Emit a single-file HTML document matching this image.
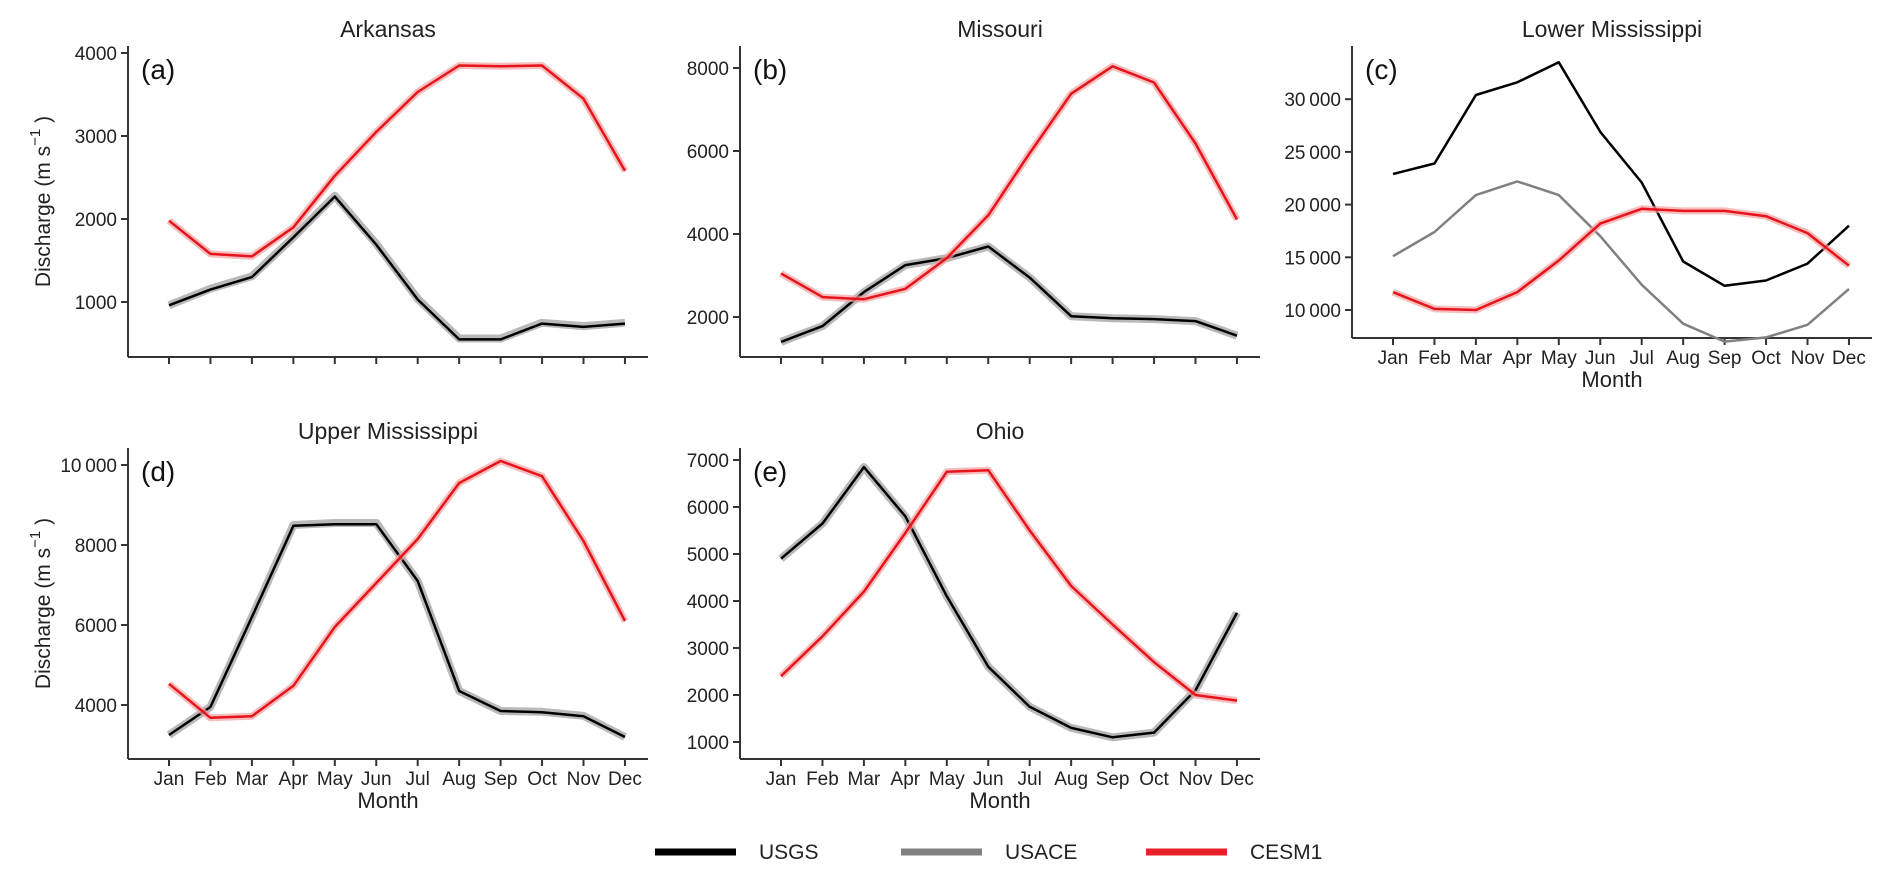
<!DOCTYPE html>
<html><head><meta charset="utf-8"><style>
html,body{margin:0;padding:0;background:#fff;}
svg{display:block;font-family:"Liberation Sans",sans-serif;}
</style></head><body>
<svg id="fig" width="1892" height="878" viewBox="0 0 1892 878"></svg>
<script>
const months = ["Jan","Feb","Mar","Apr","May","Jun","Jul","Aug","Sep","Oct","Nov","Dec"];
const arkUSGS = [960,1150,1300,1780,2270,1690,1030,550,550,740,700,740];
const arkUSACE = [960,1160,1310,1780,2280,1700,1040,560,560,750,710,750];
const arkCESM = [1980,1580,1550,1900,2520,3050,3530,3850,3840,3850,3450,2580];
const moUSGS = [1400,1780,2600,3250,3420,3700,2950,2020,1970,1950,1900,1550];
const moUSACE = [1400,1780,2600,3250,3420,3700,2950,2020,1970,1950,1900,1550];
const moCESM = [3050,2480,2430,2680,3420,4450,5950,7380,8040,7650,6180,4350];
const lmUSGS = [22900,23900,30400,31600,33500,26900,22100,14600,12300,12800,14400,18000];
const lmUSACE = [15100,17400,20900,22200,20900,17000,12400,8700,7000,7400,8600,12000];
const lmCESM = [11700,10100,10000,11700,14700,18200,19600,19400,19400,18900,17300,14200];
const umUSGS = [3250,3950,6200,8480,8520,8520,7100,4350,3850,3820,3720,3200];
const umUSACE = [3250,3950,6200,8500,8550,8550,7100,4350,3850,3830,3730,3200];
const umCESM = [4530,3680,3720,4480,5950,7050,8150,9550,10100,9720,8100,6100];
const ohUSGS = [4900,5650,6850,5800,4100,2600,1750,1300,1100,1200,2100,3750];
const ohUSACE = [4900,5650,6850,5800,4100,2600,1750,1300,1100,1200,2100,3750];
const ohCESM = [2400,3250,4200,5450,6750,6780,5500,4320,3500,2700,2000,1880];
const arkTicks = [1000,2000,3000,4000];
const moTicks = [2000,4000,6000,8000];
const lmTicks = [10000,15000,20000,25000,30000];
const lmTickLabels = ["10\u2009000","15\u2009000","20\u2009000","25\u2009000","30\u2009000"];
const umTicks = [4000,6000,8000,10000];
const umTickLabels = ["4000","6000","8000","10\u2009000"];
const ohTicks = [1000,2000,3000,4000,5000,6000,7000];

const NS="http://www.w3.org/2000/svg";
const svg=document.getElementById('fig');
function mk(tag,attrs,parent){const e=document.createElementNS(NS,tag);for(const k in attrs)e.setAttribute(k,attrs[k]);(parent||svg).appendChild(e);return e;}

function panel(o){
  const g=mk('g',{});
  
  
  const x=i=>o.ax+41+i*41.45;
  const y=v=>o.yRef-(v-o.vRef)*o.k;
  const ya=mk('line',{x1:o.ax,y1:o.top,x2:o.ax,y2:o.bot,stroke:'#333','stroke-width':2},g);
  
  
  const xa=mk('line',{x1:o.ax,y1:o.bot,x2:o.ax+520,y2:o.bot,stroke:'#333','stroke-width':2},g);
  
  
  o.ticks.forEach((t,i)=>{
    mk('line',{x1:o.ax-7,y1:y(t),x2:o.ax,y2:y(t),stroke:'#333','stroke-width':2},g);
    const tx=mk('text',{x:o.ax-11,y:y(t)+7,'text-anchor':'end','font-size':19,fill:'#222'},g);
    tx.textContent=o.labels?o.labels[i]:String(t);
    
    
  });
  months.forEach((m,i)=>{
    mk('line',{x1:x(i),y1:o.bot,x2:x(i),y2:o.bot+7,stroke:'#333','stroke-width':2},g);
    if(o.mlabels){
      const tx=mk('text',{x:x(i),y:o.bot+26,'text-anchor':'middle','font-size':19,fill:'#222'},g);
      tx.textContent=m;
      
      
    }
  });
  if(o.mlabels){
    const mt=mk('text',{x:o.ax+260,y:o.bot+49,'text-anchor':'middle','font-size':22,fill:'#222'},g);
    mt.textContent='Month';
    
    
  }
  const ti=mk('text',{x:o.ax+260,y:o.top-9,'text-anchor':'middle','font-size':23,fill:'#222'},g);
  ti.textContent=o.title;
  
  
  const pl=mk('text',{x:o.ax+13,y:o.top+33,'font-size':28,fill:'#111'},g);
  pl.textContent=o.tag;
  
  
  if(o.ylab){
    const cy=(o.top+o.bot)/2;
    const yl=mk('text',{transform:`translate(${o.ax-78},${cy}) rotate(-90)`,'text-anchor':'middle','font-size':21,fill:'#222'},g);
    yl.innerHTML='Discharge (m s<tspan dy="-10" font-size="15">\u22121</tspan><tspan dy="10"> )</tspan>';
    
    
  }
  const pts=arr=>arr.map((v,i)=>x(i).toFixed(1)+','+y(v).toFixed(1)).join(' ');
  const series=[
    [o.usace,'#808080',o.sep?2.5:8,o.sep?1:0.55,'usace'],
    [o.usgs,'#000',2.5,1,'usgs'],
    [o.cesm,'#f4a0a0',7,0.7,'cesm1-band'],
    [o.cesm,'#e8141b',2.5,1,'cesm1']
  ];
  series.forEach(s=>{
    const p=mk('polyline',{points:pts(s[0]),fill:'none',stroke:s[1],'stroke-width':s[2],'stroke-opacity':s[3],'stroke-linejoin':'round'},g);
    
    
  });
}
panel({name:'arkansas',title:'Arkansas',tag:'(a)',ax:128,top:46,bot:357,yRef:53,vRef:4000,k:0.083,ticks:arkTicks,usgs:arkUSGS,usace:arkUSACE,cesm:arkCESM,ylab:true});
panel({name:'missouri',title:'Missouri',tag:'(b)',ax:740,top:46,bot:357,yRef:68,vRef:8000,k:0.0415,ticks:moTicks,usgs:moUSGS,usace:moUSACE,cesm:moCESM});
panel({name:'lower-mississippi',title:'Lower Mississippi',tag:'(c)',ax:1352,top:46,bot:338,yRef:310,vRef:10000,k:0.01054,ticks:lmTicks,labels:lmTickLabels,usgs:lmUSGS,usace:lmUSACE,cesm:lmCESM,mlabels:true,sep:true});
panel({name:'upper-mississippi',title:'Upper Mississippi',tag:'(d)',ax:128,top:448,bot:759,yRef:465,vRef:10000,k:0.04,ticks:umTicks,labels:umTickLabels,usgs:umUSGS,usace:umUSACE,cesm:umCESM,mlabels:true,ylab:true});
panel({name:'ohio',title:'Ohio',tag:'(e)',ax:740,top:448,bot:759,yRef:460,vRef:7000,k:0.047,ticks:ohTicks,usgs:ohUSGS,usace:ohUSACE,cesm:ohCESM,mlabels:true});

const legNames=["USGS","USACE","CESM1"];
const legColors=["#000","#808080","#e8202a"];
const legX=[655,901,1146];
legNames.forEach((n,i)=>{
  const l=mk('line',{x1:legX[i],y1:852,x2:legX[i]+81,y2:852,stroke:legColors[i],'stroke-width':7});
  
  
  const t=mk('text',{x:legX[i]+104,y:859,'font-size':21,fill:'#222'});
  t.textContent=n;
  
  
});
</script>
</body></html>
